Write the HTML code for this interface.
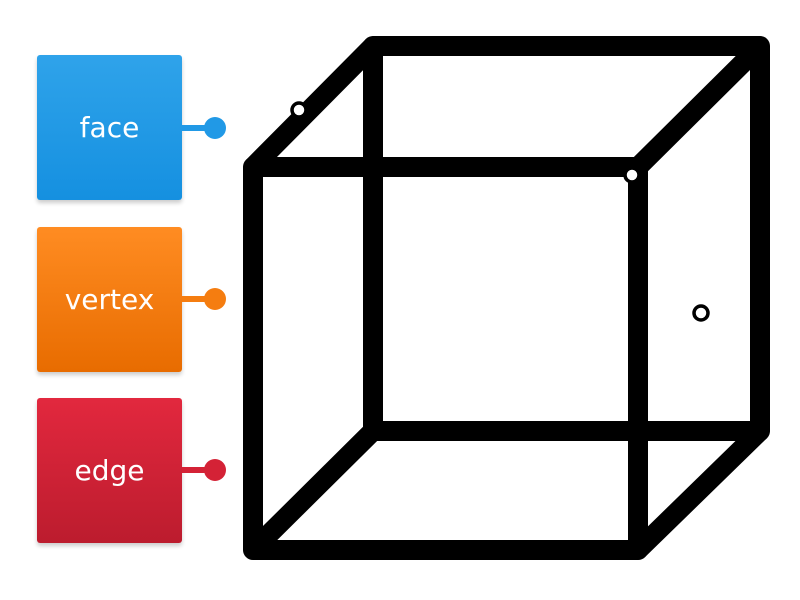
<!DOCTYPE html>
<html><head><style>
body{margin:0;width:800px;height:600px;background:#fff;position:relative;overflow:hidden;font-family:"DejaVu Sans","Liberation Sans",sans-serif}
.b{position:absolute;left:37px;width:145px;height:145px;border-radius:3px;color:#fff;font-size:28px;display:flex;align-items:center;justify-content:center;box-shadow:0 3px 4px rgba(0,0,0,.2)}
</style></head><body>
<div class="b" style="top:55px;background:linear-gradient(#2fa3ea,#1590e0)">face</div>
<div class="b" style="top:227px;background:linear-gradient(#ff8c22,#e86c00)">vertex</div>
<div class="b" style="top:398px;background:linear-gradient(#e2283e,#bc1c2e)">edge</div>
<svg width="800" height="600" style="position:absolute;left:0;top:0">
<g stroke-width="6"><line x1="182" y1="128" x2="215" y2="128" stroke="#2199e6"/><line x1="182" y1="299" x2="215" y2="299" stroke="#f57d10"/><line x1="182" y1="470" x2="215" y2="470" stroke="#d42236"/></g>
<circle cx="215" cy="128" r="11" fill="#2199e6"/><circle cx="215" cy="299" r="11" fill="#f57d10"/><circle cx="215" cy="470" r="11" fill="#d42236"/>
<g fill="none" stroke="#000" stroke-width="20" stroke-linejoin="bevel" stroke-linecap="round">
<path d="M253 550 L253 167 L373 46 L760 46 L760 431 L638 550 Z"/>
<path d="M253 167 L638 167 L638 550 M638 167 L760 46"/>
<path d="M373 46 L373 431 L760 431 M373 431 L253 550"/>
</g>
<g fill="#fff" stroke="#000" stroke-width="3.5">
<circle cx="299" cy="110" r="7"/><circle cx="632" cy="175" r="7"/><circle cx="701" cy="313" r="7"/>
</g>
</svg>
</body></html>
